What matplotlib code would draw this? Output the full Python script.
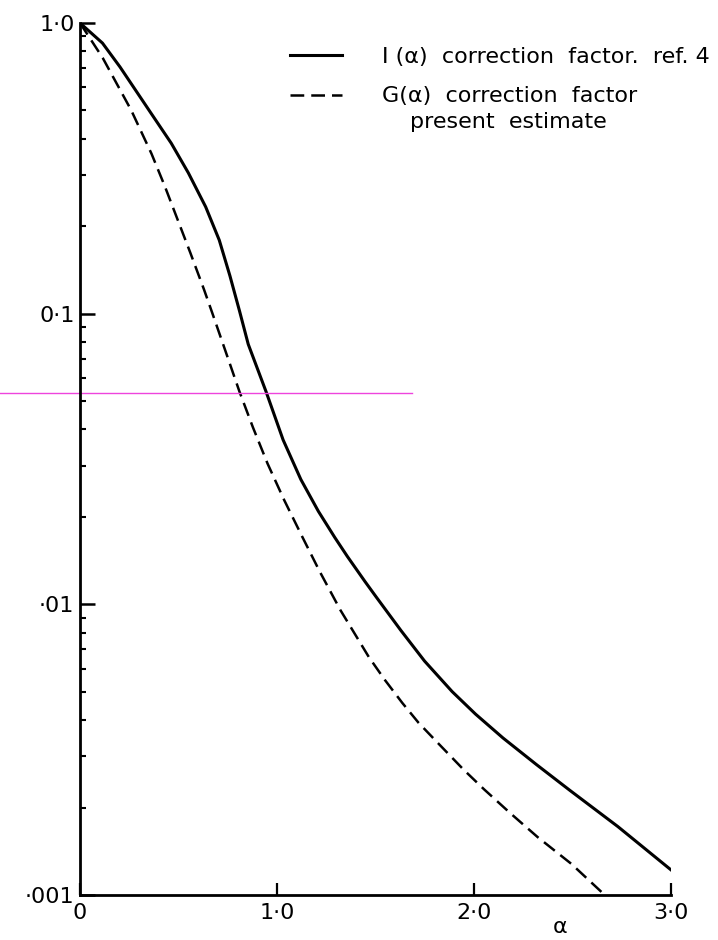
import numpy as np
import matplotlib
matplotlib.use("Agg")
import matplotlib.pyplot as plt
from matplotlib.ticker import FixedLocator, LogLocator, NullFormatter

# values (alpha, factor)
alpha_I = [0.0, 0.114, 0.203, 0.36, 0.463, 0.55, 0.638, 0.707, 0.761, 0.81, 0.854, 0.945,
           1.031, 1.121, 1.21, 1.293, 1.357, 1.447, 1.504, 1.629, 1.749, 1.889,
           2.008, 2.147, 2.317, 2.487, 2.73, 3.0]
corr_I = [1.0, 0.853, 0.706, 0.49, 0.386, 0.305, 0.233, 0.179, 0.135, 0.102, 0.0785, 0.0538,
          0.0368, 0.0269, 0.0209, 0.0170, 0.01462, 0.01197, 0.01059, 0.00813, 0.00638, 0.00501,
          0.00419, 0.00347, 0.00281, 0.00229, 0.00172, 0.00122]

alpha_G = [0.0, 0.115, 0.26, 0.363, 0.43, 0.56, 0.63, 0.67, 0.738, 0.81, 0.878,
           0.952, 1.037, 1.126, 1.216, 1.322, 1.466, 1.547, 1.636, 1.719, 1.823,
           1.947, 2.051, 2.185, 2.324, 2.494, 2.65]
corr_G = [1.0, 0.759, 0.501, 0.355, 0.275, 0.162, 0.1208, 0.1012, 0.0745, 0.0538, 0.0406,
          0.0305, 0.0228, 0.0172, 0.0130, 0.00955, 0.00659, 0.0055, 0.00458, 0.00391, 0.00330,
          0.00270, 0.00231, 0.00191, 0.00158, 0.00128, 0.00102]

x_ticks = [0, 1, 2, 3]
x_labels = ["0", "1·0", "2·0", "3·0"]
y_ticks = [1.0, 0.1, 0.01, 0.001]
y_labels = ["1·0", "0·1", "·01", "·001"]

label_I = "I (α)  correction  factor.  ref. 4"
label_G = "G(α)  correction  factor"
label_G2 = "present  estimate"

plt.rcParams['font.family'] = ['DejaVu Sans']

fig = plt.figure(figsize=(7.18, 9.40), dpi=100)
ax = fig.add_axes([80 / 718, 45 / 940, 591 / 718, 872 / 940])

ax.plot(alpha_I, corr_I, color='black', lw=2.2, label=label_I)
ax.plot(alpha_G, corr_G, color='black', lw=1.8, dashes=(5.5, 2.8), label=label_G)

ax.set_yscale('log')
ax.set_xlim(0, 3.0)
ax.set_ylim(0.001, 1.0)

for s in ['top', 'right']:
    ax.spines[s].set_visible(False)
for s in ['left', 'bottom']:
    ax.spines[s].set_linewidth(2.0)

ax.xaxis.set_major_locator(FixedLocator(x_ticks))
ax.set_xticklabels(x_labels)
ax.yaxis.set_major_locator(FixedLocator(y_ticks))
ax.set_yticklabels(y_labels)
ax.yaxis.set_minor_locator(LogLocator(base=10, subs=np.arange(2, 10)))
ax.yaxis.set_minor_formatter(NullFormatter())

ax.tick_params(axis='x', which='major', direction='in', length=9, width=1.6, labelsize=16, pad=6)
ax.tick_params(axis='y', which='major', direction='in', length=11, width=1.8, labelsize=16, pad=4)
ax.tick_params(axis='y', which='minor', direction='in', length=4, width=1.5)

ax.set_xlabel("α", fontsize=16)
ax.xaxis.set_label_coords(0.812, -0.025)

leg = ax.legend(loc='upper left', bbox_to_anchor=(0.340, 0.9826), frameon=False,
                fontsize=16, handlelength=2.35, handletextpad=1.8, labelspacing=0.87,
                borderaxespad=0.0)
fig.text(410 / 718, 1 - 122 / 940, label_G2, fontsize=16, ha='left', va='center')

# pink scanner line across the left part of the sheet
ax.axhline(0.0535, xmin=-80 / 591, xmax=(412 - 80) / 591, color='#ee44dd', lw=1.0, clip_on=False)

plt.savefig("out.png", dpi=100)
